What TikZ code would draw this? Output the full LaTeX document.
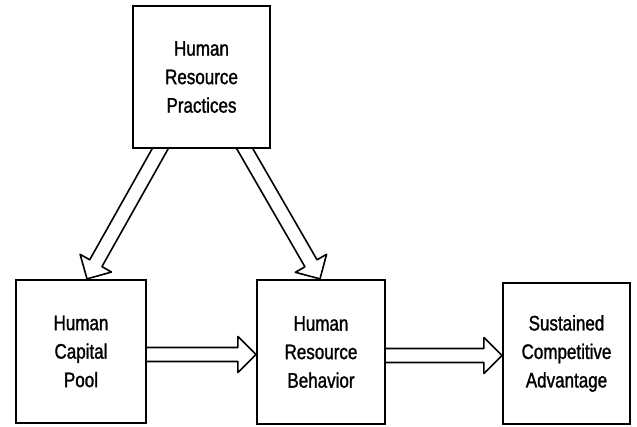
\documentclass[tikz,border=0pt]{standalone}
\usepackage{fontspec}
\setmainfont{Liberation Sans}[FakeStretch=0.81, FakeBold=1.3]
\usetikzlibrary{calc,backgrounds}
\tikzset{
  boxnode/.style={draw, line width=2.2pt, fill=white, align=center, inner sep=0pt,
    font=\fontsize{21pt}{28.5pt}\selectfont},
  arrowline/.style={draw=black, fill=white, line width=1.6pt, line join=round}
}
\newcommand\hollowarrow[2]{%
  \coordinate (HA) at (#1);
  \coordinate (HB) at (#2);
  \coordinate (HH) at ($(HB)!18pt!(HA)$);
  \path[arrowline] ($(HA)!7pt!90:(HB)$) -- ($(HH)!7pt!90:(HB)$) -- ($(HH)!18pt!90:(HB)$) -- (HB)
     -- ($(HH)!18pt!-90:(HB)$) -- ($(HH)!7pt!-90:(HB)$) -- ($(HA)!7pt!-90:(HB)$);
}
\begin{document}
\begin{tikzpicture}[x=1pt,y=1pt]
\useasboundingbox (0,0) rectangle (637,427);
\node[boxnode, minimum width=137pt, minimum height=142pt] (hrp) at (201.5,350) {Human\\Resource\\Practices};
\node[boxnode, minimum width=130pt, minimum height=143pt] (hcp) at (81,75.5) {Human\\Capital\\Pool};
\node[boxnode, minimum width=128pt, minimum height=144pt] (hrb) at (321,75) {Human\\Resource\\Behavior};
\node[boxnode, minimum width=127pt, minimum height=141pt] (sca) at (566.5,73.5) {Sustained\\Competitive\\Advantage};

\coordinate (t1) at ([xshift=6pt]hcp.north);
\coordinate (s1a) at ([xshift=-41.5pt]hrp.south);
\coordinate (s1) at ($(s1a)!-8pt!(t1)$);
\coordinate (t2) at ([xshift=-1pt]hrb.north);
\coordinate (s2a) at ([xshift=43.5pt]hrp.south);
\coordinate (s2) at ($(s2a)!-8pt!(t2)$);
\coordinate (s3a) at ([yshift=-3pt]hcp.east);
\coordinate (t3) at (hrb.west |- s3a);
\coordinate (s3) at ([xshift=-6pt]s3a);
\coordinate (s4a) at ([yshift=-3.5pt]hrb.east);
\coordinate (t4) at (sca.west |- s4a);
\coordinate (s4) at ([xshift=-6pt]s4a);

\begin{scope}[on background layer]
\hollowarrow{s1}{t1}
\hollowarrow{s2}{t2}
\hollowarrow{s3}{t3}
\hollowarrow{s4}{t4}
\end{scope}
\end{tikzpicture}
\end{document}
